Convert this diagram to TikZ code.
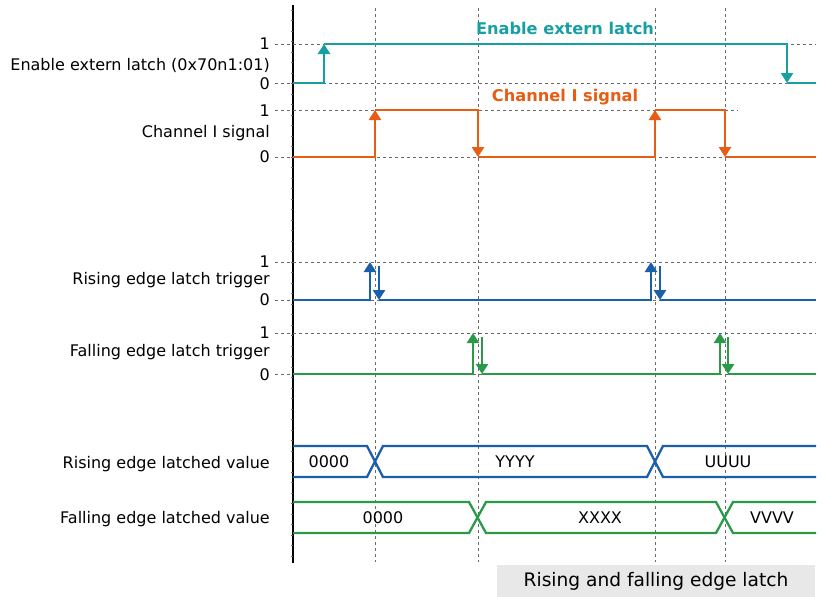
\documentclass[tikz,border=0pt]{standalone}
\usepackage{fontspec}
\setmainfont{DejaVu Sans}
\usetikzlibrary{arrows.meta}

\definecolor{cteal}{HTML}{17A0A2}
\definecolor{corange}{HTML}{E85D14}
\definecolor{cblue}{HTML}{1A5FAA}
\definecolor{cgreen}{HTML}{2A9A48}
\definecolor{cgrid}{HTML}{6A6A6A}
\definecolor{ccaption}{HTML}{E8E8E8}

\tikzset{
  gridline/.style={draw=cgrid, line width=0.9pt, dash pattern=on 3pt off 3pt},
  wave/.style={line width=2.6pt, line join=miter, line cap=butt},
  bus/.style={line width=2.3pt, line join=miter},
  tipped/.style={-{Triangle[width=12pt,length=10pt]}},
  siglabel/.style={anchor=east, inner sep=0pt, font=\fontsize{16}{16}\selectfont},
  lvl/.style={anchor=east, inner sep=0pt, font=\fontsize{16}{16}\selectfont},
  busval/.style={inner sep=0pt, font=\fontsize{16}{16}\selectfont},
  headline/.style={inner sep=0pt, font=\fontsize{16.2}{16}\selectfont\bfseries},
}

\begin{document}
\begin{tikzpicture}[x=1pt, y=-1pt]
\useasboundingbox (0,0) rectangle (822,597);

% time axis with its small ticks
\draw[line width=1.2pt] (293,5) -- (293,563);
\foreach \t in {10,20.5,...,560} \draw[line width=0.7pt, black!60] (291,\t) -- (293,\t);

% vertical guides at the signal edges
\foreach \gx in {375,478,655,725} \draw[gridline] (\gx,8) -- (\gx,562);

% horizontal level guides
\foreach \gy in {44,83,157,262,300,333,374} \draw[gridline] (275,\gy) -- (816,\gy);
\draw[gridline] (275,110) -- (738,110);

% level numbers
\node[lvl] (e1) at (270,44) {1};
\node[lvl] (e0) at (270,84) {0};
\node[lvl] (c1) at (270,111) {1};
\node[lvl] (c0) at (270,157) {0};
\node[lvl] (r1) at (270,262) {1};
\node[lvl] (r0) at (270,300) {0};
\node[lvl] (f1) at (270,333) {1};
\node[lvl] (f0) at (270,375) {0};

% signal names
\node[siglabel] (lenable) at (270,65) {Enable extern latch (0x70n1:01)};
\node[siglabel] (lchan) at (270,133) {Channel I signal};
\node[siglabel] (lrise) at (270,280) {Rising edge latch trigger};
\node[siglabel] (lfall) at (270,352) {Falling edge latch trigger};
\node[siglabel] (lrval) at (270,464) {Rising edge latched value};
\node[siglabel] (lfval) at (270,519) {Falling edge latched value};

% headlines
\node[headline, text=cteal] (henable) at (565,28) {Enable extern latch};
\node[headline, text=corange] (hchan) at (565,97) {Channel I signal};

% enable extern latch
\begin{scope}[cteal]
\draw[wave, tipped] (293,83) -| (324,44);
\draw[wave, tipped] (324,44) -| (787,83);
\draw[wave] (787,83) -- (816,83);
\end{scope}

% channel I signal
\begin{scope}[corange]
\draw[wave, tipped] (293,157) -| (375,110);
\draw[wave, tipped] (375,110) -| (478,157);
\draw[wave, tipped] (478,157) -| (655,110);
\draw[wave, tipped] (655,110) -| (725,157);
\draw[wave] (725,157) -- (816,157);
\end{scope}

% rising edge latch trigger
\begin{scope}[cblue]
\draw[wave, tipped] (293,300) -| (370,262);
\draw[wave, tipped] (379,266) -- (379,300);
\draw[wave, tipped] (379,300) -| (651,262);
\draw[wave, tipped] (660,266) -- (660,300);
\draw[wave] (660,300) -- (816,300);
\end{scope}

% falling edge latch trigger
\begin{scope}[cgreen]
\draw[wave, tipped] (293,374) -| (473,333);
\draw[wave, tipped] (482,337) -- (482,374);
\draw[wave, tipped] (482,374) -| (720,333);
\draw[wave, tipped] (728,337) -- (728,374);
\draw[wave] (728,374) -- (816,374);
\end{scope}

% rising edge latched value
\draw[bus, cblue] (293,446) -- (367,446) -- (383,477) -- (647,477) -- (663,446) -- (816,446);
\draw[bus, cblue] (293,477) -- (367,477) -- (383,446) -- (647,446) -- (663,477) -- (816,477);
\node[busval] (rv0) at (329,462) {0000};
\node[busval] (rv1) at (515,462) {YYYY};
\node[busval] (rv2) at (728,462) {UUUU};

% falling edge latched value
\draw[bus, cgreen] (293,502) -- (469,502) -- (486,533) -- (716,533) -- (733,502) -- (816,502);
\draw[bus, cgreen] (293,533) -- (469,533) -- (486,502) -- (716,502) -- (733,533) -- (816,533);
\node[busval] (fv0) at (383,518) {0000};
\node[busval] (fv1) at (600,518) {XXXX};
\node[busval] (fv2) at (772,518) {VVVV};

% caption
\fill[ccaption] (497,565) rectangle (815,597);
\node[inner sep=0pt, font=\fontsize{18.6}{19}\selectfont] (caption) at (656,581) {Rising and falling edge latch};
\end{tikzpicture}
\end{document}
